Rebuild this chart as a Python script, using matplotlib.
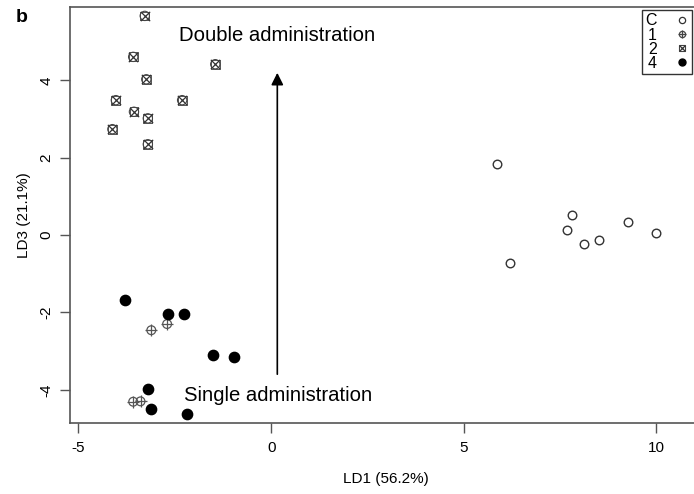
import matplotlib
matplotlib.use('Agg')
import matplotlib.pyplot as plt
from matplotlib.lines import Line2D

plt.rcParams['font.family'] = ['Liberation Sans', 'DejaVu Sans']

# LDA scores (LD1, LD3)
c_x = [5.87, 6.19, 7.67, 7.80, 8.13, 8.52, 9.25, 9.99]
c_y = [1.83, -0.71, 0.13, 0.53, -0.22, -0.13, 0.35, 0.06]

g1_x = [-3.11, -2.70, -3.58, -3.39]
g1_y = [-2.46, -2.30, -4.31, -4.30]

g2_x = [-3.28, -3.58, -3.24, -1.45, -4.03, -2.31, -3.56, -3.20, -4.12, -3.20]
g2_y = [5.67, 4.61, 4.03, 4.42, 3.49, 3.49, 3.19, 3.02, 2.74, 2.35]

g4_x = [-3.79, -2.68, -2.27, -1.50, -0.96, -3.20, -3.13, -2.19]
g4_y = [-1.68, -2.04, -2.03, -3.10, -3.16, -3.98, -4.51, -4.64]

legend_labels = ['C', '1', '2', '4']

fig = plt.figure(figsize=(6.94, 4.94), dpi=100)
ax = fig.add_axes([70 / 694, 71 / 494, 625 / 694, 416 / 494])

# group C: open circles
ax.scatter(c_x, c_y, s=38, facecolors='white', edgecolors='#333333', linewidths=1.0, zorder=3)
# group 1: circle with plus
ax.scatter(g1_x, g1_y, s=40, facecolors='none', edgecolors='#555555', linewidths=0.9, zorder=3)
ax.scatter(g1_x, g1_y, s=75, marker='+', color='#555555', linewidths=0.9, zorder=3)
# group 2: square + circle with cross
ax.scatter(g2_x, g2_y, s=40, marker='s', facecolors='none', edgecolors='#555555', linewidths=0.7, zorder=3)
ax.scatter(g2_x, g2_y, s=45, facecolors='none', edgecolors='#444444', linewidths=0.8, zorder=3)
ax.scatter(g2_x, g2_y, s=45, marker='x', color='#333333', linewidths=0.9, zorder=3)
# group 4: filled circles
ax.scatter(g4_x, g4_y, s=55, color='black', zorder=3)

ax.set_xlim(-5.22, 11.0)
ax.set_ylim(-4.86, 5.9)
ax.set_xticks([-5, 0, 5, 10])
ax.set_yticks([-4, -2, 0, 2, 4])
ax.set_xticklabels(['-5', '0', '5', '10'], fontsize=11)
ax.set_yticklabels(['-4', '-2', '0', '2', '4'], fontsize=11, rotation=90, va='center')
ax.tick_params(direction='out', length=7, width=1, color='#555555', pad=6)
ax.tick_params(axis='y', pad=5)
for sp in ax.spines.values():
    sp.set_color('#555555')
    sp.set_linewidth(1.2)

# arrow between the two conditions
ax.annotate('', xy=(0.16, 4.27), xytext=(0.16, -3.67),
            arrowprops=dict(arrowstyle='-|>', color='black', lw=1.2, mutation_scale=18))
ax.text(-2.38, 5.17, 'Double administration', fontsize=14.6, va='center', ha='left')
ax.text(-2.27, -4.16, 'Single administration', fontsize=14.6, va='center', ha='left')

# legend
h_c = Line2D([], [], ls='none', marker='o', ms=4.5, mfc='white', mec='#333333', mew=0.9)
h_1 = (Line2D([], [], ls='none', marker='o', ms=4.5, mfc='none', mec='#444444', mew=0.9),
       Line2D([], [], ls='none', marker='+', ms=6, mec='#444444', mew=0.9))
h_2 = (Line2D([], [], ls='none', marker='s', ms=5, mfc='none', mec='#444444', mew=0.8),
       Line2D([], [], ls='none', marker='x', ms=5, mec='#333333', mew=0.9))
h_4 = Line2D([], [], ls='none', marker='o', ms=5, color='black')
leg = ax.legend([h_c, h_1, h_2, h_4], legend_labels, loc='upper right', markerfirst=False,
                fontsize=11.5, labelspacing=-0.05, handlelength=0.8, handletextpad=1.2,
                borderpad=0.2, borderaxespad=0.2, fancybox=False, framealpha=1,
                edgecolor='#333333')
leg.get_frame().set_linewidth(1.0)
for t in leg.get_texts():
    t.set_ha('left')

fig.text(386 / 694, 1 - 479 / 494, 'LD1 (56.2%)', fontsize=11, ha='center', va='center')
fig.text(24 / 694, 1 - 215 / 494, 'LD3 (21.1%)', fontsize=11, ha='center', va='center', rotation=90)
fig.text(22 / 694, 1 - 18 / 494, 'b', fontsize=14, fontweight='bold', ha='center', va='center')

fig.savefig('out.png', dpi=100)
